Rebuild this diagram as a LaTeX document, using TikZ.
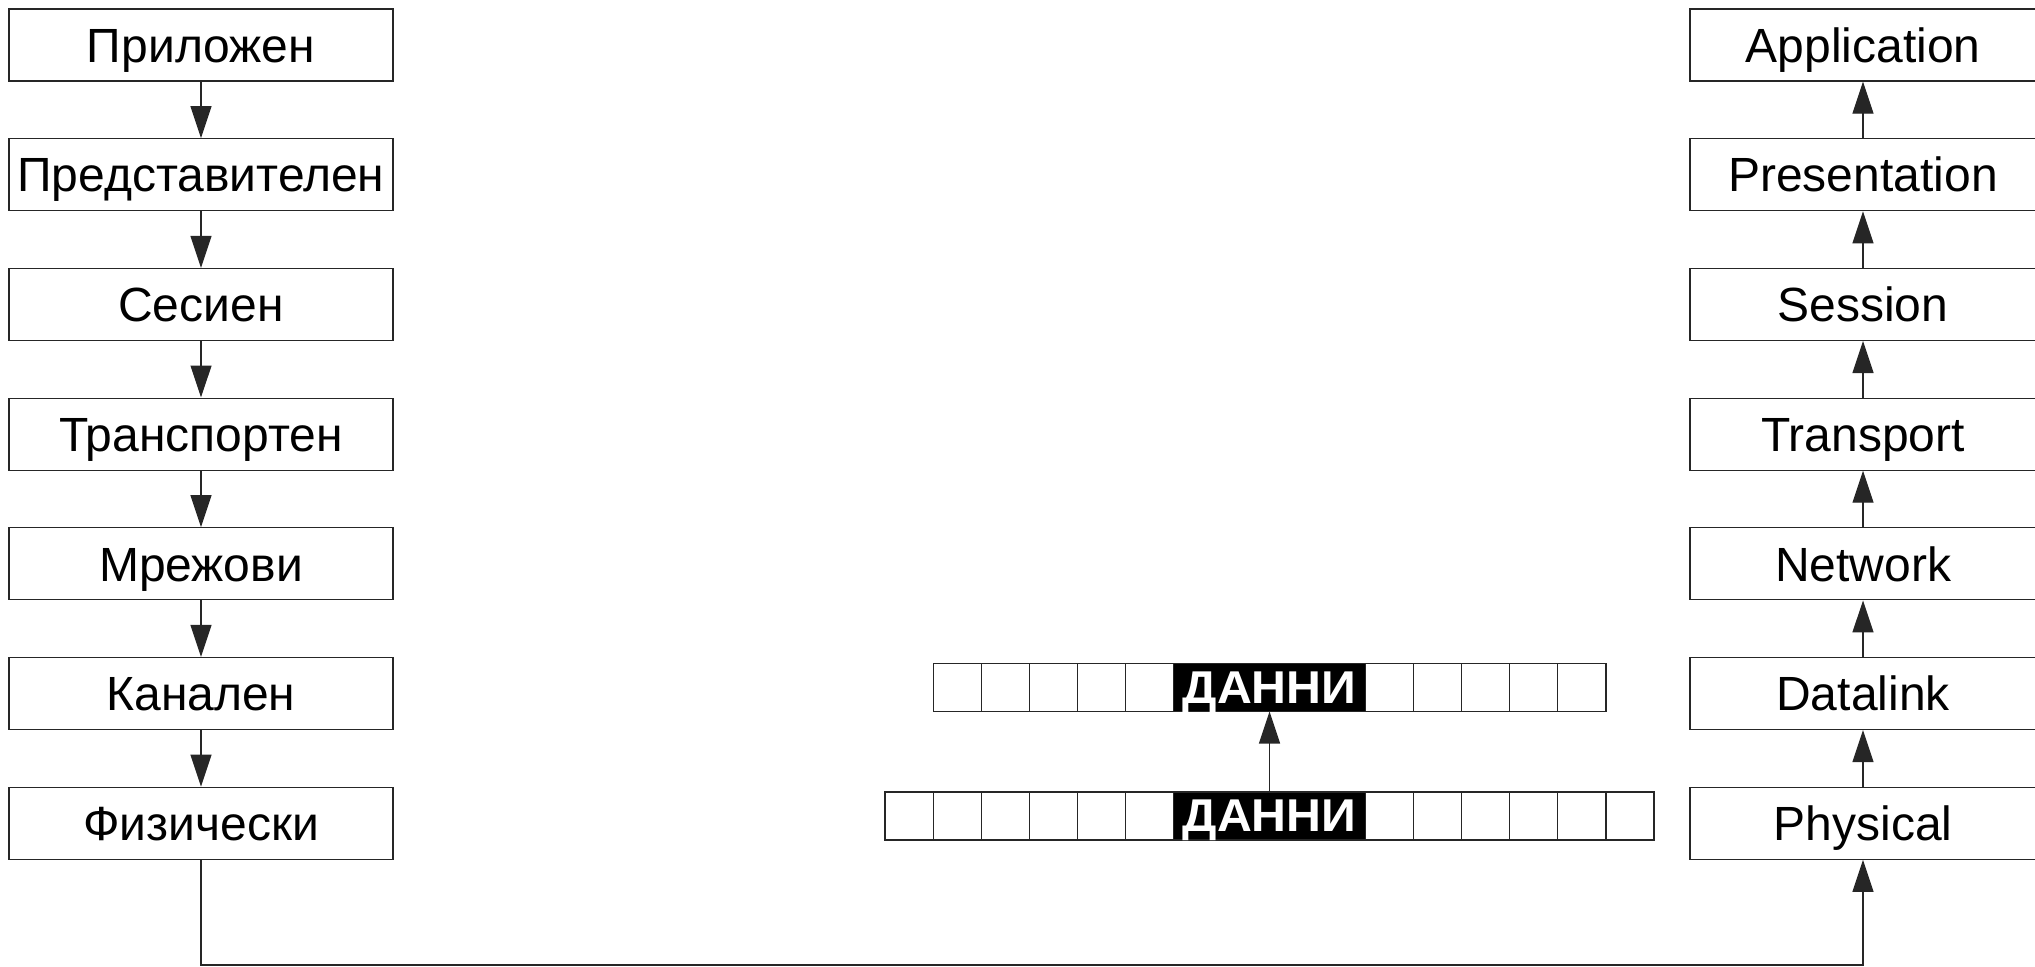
\documentclass[tikz,border=0pt]{standalone}
\usepackage{fontspec}
\setmainfont{Liberation Sans}
\usepackage{graphicx}
\usetikzlibrary{arrows.meta,positioning}

\begin{document}
\begin{tikzpicture}[x=0.5pt,y=0.5pt,
  layer/.style={draw=black!85,line width=0.6pt,minimum height=36pt,inner sep=0pt,
    text height=17.2pt,text depth=0pt,font=\fontsize{24}{28}\selectfont},
  left/.style={layer,minimum width=192pt},
  right/.style={layer,minimum width=173pt},
  cell/.style={draw=black!85,line width=0.6pt,minimum width=24.03pt,minimum height=24pt,
    inner sep=0pt,outer sep=0pt},
  data/.style={cell,fill=black,text=white,minimum width=96.1pt,text height=16.5pt,
    text depth=1pt,font=\fontsize{23}{27}\selectfont\bfseries},
  arr/.style={-{Triangle[length=16pt,width=10.5pt]},line width=0.6pt,black!85}]
  \useasboundingbox (0,0) rectangle (2035,-966);

  % sender stack
  \node[left] (app) at (201,-45) {Приложен};
  \node[left,below=28.25pt of app] (pres) {Представителен};
  \node[left,below=28.25pt of pres] (sess) {Сесиен};
  \node[left,below=28.25pt of sess] (trans) {Транспортен};
  \node[left,below=28.25pt of trans] (net) {Мрежови};
  \node[left,below=28.25pt of net] (link) {Канален};
  \node[left,below=28.25pt of link] (phys) {Физически};

  % receiver stack
  \node[right] (rapp) at (1863,-45) {Application};
  \node[right,below=28.25pt of rapp] (rpres) {Presentation};
  \node[right,below=28.25pt of rpres] (rsess) {Session};
  \node[right,below=28.25pt of rsess] (rtrans) {Transport};
  \node[right,below=28.25pt of rtrans] (rnet) {Network};
  \node[right,below=28.25pt of rnet] (rlink) {Datalink};
  \node[right,below=28.25pt of rlink] (rphys) {Physical};

  % frames
  \node[data] (lowdata) at (1269.5,-816) {\scalebox{1.05}[1]{ДАННИ}};
  \node[data] (updata) at (1269.5,-687.5) {\scalebox{1.05}[1]{ДАННИ}};
  \foreach \i in {1,...,6} {
    \node[cell] (lowl\i) at ({1173.4-(\i-0.5)*48.06},-816) {};
    \node[cell] (lowr\i) at ({1365.6+(\i-0.5)*48.06},-816) {};
  }
  \foreach \i in {1,...,5} {
    \node[cell] (upl\i) at ({1173.4-(\i-0.5)*48.06},-687.5) {};
    \node[cell] (upr\i) at ({1365.6+(\i-0.5)*48.06},-687.5) {};
  }

  \draw[arr] (app) -- (pres);
  \draw[arr] (pres) -- (sess);
  \draw[arr] (sess) -- (trans);
  \draw[arr] (trans) -- (net);
  \draw[arr] (net) -- (link);
  \draw[arr] (link) -- (phys);

  \draw[arr] (rpres) -- (rapp);
  \draw[arr] (rsess) -- (rpres);
  \draw[arr] (rtrans) -- (rsess);
  \draw[arr] (rnet) -- (rtrans);
  \draw[arr] (rlink) -- (rnet);
  \draw[arr] (rphys) -- (rlink);

  \draw[arr] (lowdata) -- (updata);

  % medium
  \coordinate (wireL) at (201,-965);
  \coordinate (wireR) at (1863,-965);
  \draw[arr] (phys.south) -- (wireL) -- (wireR) -- (rphys.south);
\end{tikzpicture}
\end{document}
